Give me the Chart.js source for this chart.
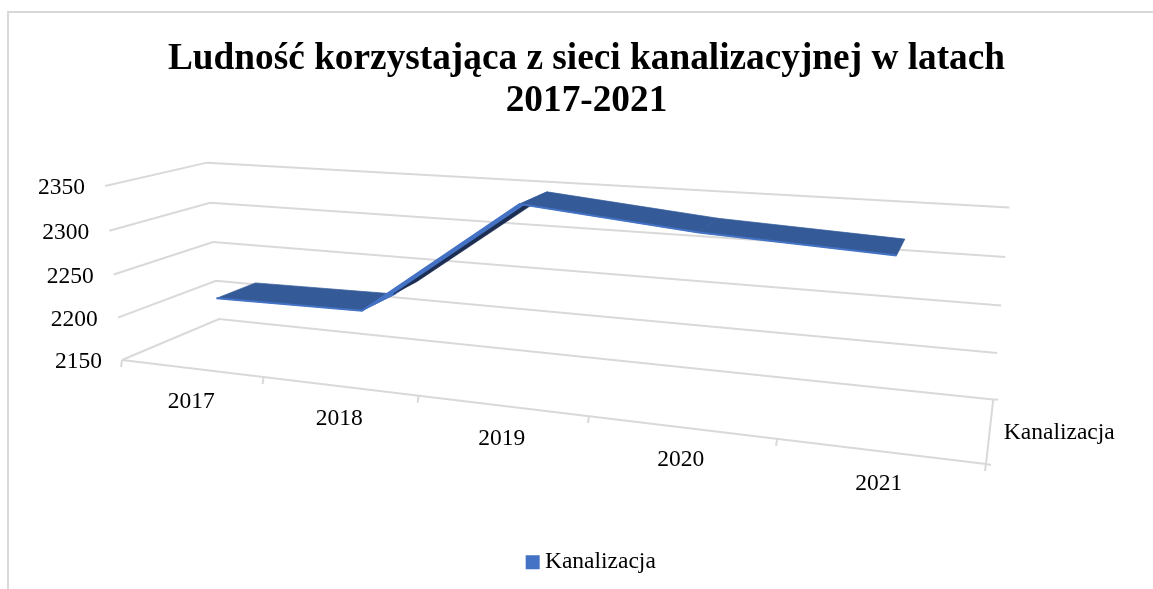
<!DOCTYPE html>
<html lang="pl">
<head>
<meta charset="utf-8">
<title>Ludność korzystająca z sieci kanalizacyjnej</title>
<style>
html,body{margin:0;padding:0;background:#fff;overflow:hidden}
canvas{display:block}
</style>
<script src="https://cdn.jsdelivr.net/npm/chart.js@4/dist/chart.umd.min.js"></script>
</head>
<body>
<canvas id="c" width="1153" height="589"></canvas>
<script>
const titleLines = ['Ludność korzystająca z sieci kanalizacyjnej w latach', '2017-2021'];
const seriesName = 'Kanalizacja';
const years = ['2017', '2018', '2019', '2020', '2021'];
const values = [2217, 2219, 2348, 2331, 2322];
const valueTicks = [2150, 2200, 2250, 2300, 2350];

const FONT = '"Liberation Serif","Times New Roman",serif';
const GRID = '#D9D9D9';
const LABEL_SIZE = 23.5;

// View of the 3D box: pixel corners of the box and their perspective weights
const view = {
  A: [122, 360], // floor front-left
  B: [986, 464], // floor front-right
  C: [219, 319], // floor back-left
  E: [105, 186], // top front-left
  wB: 0.784, wC: 1.118, wE: 0.965,
  zFront: 0.30, zBack: 0.72, thickness: 3
};

function project(X, Y, Z) {
  const {A, B, C, E, wB, wC, wE} = view;
  const w = 1 + X * (wB - 1) + Y * (wE - 1) + Z * (wC - 1);
  const f = i => A[i] + X * (wB * B[i] - A[i]) + Y * (wE * E[i] - A[i]) + Z * (wC * C[i] - A[i]);
  return {x: f(0) / w, y: f(1) / w};
}
function unit(chart, px, py) {
  const a = chart.chartArea;
  return [(px - a.left) / (a.right - a.left), (a.bottom - py) / (a.bottom - a.top)];
}
function seg(ctx, p, q) {
  ctx.beginPath(); ctx.moveTo(p.x, p.y); ctx.lineTo(q.x, q.y); ctx.stroke();
}
function quad(ctx, a, b, c, d, color) {
  ctx.fillStyle = color; ctx.strokeStyle = color; ctx.lineWidth = 0.7;
  ctx.beginPath(); ctx.moveTo(a.x, a.y); ctx.lineTo(b.x, b.y); ctx.lineTo(c.x, c.y); ctx.lineTo(d.x, d.y);
  ctx.closePath(); ctx.fill(); ctx.stroke();
}
function along(p, q, t, dx, dy) {
  return {x: p.x + t * (q.x - p.x) + dx, y: p.y + t * (q.y - p.y) + dy};
}

const perspective = {
  id: 'perspective',
  afterLayout(chart) {
    // legend sits slightly right of the chart's centre line
    chart.legend.left += 7.5; chart.legend.right += 7.5;
  },
  afterDatasetsUpdate(chart) {
    chart.data.datasets.forEach((ds, i) => {
      const z = i === 0 ? view.zFront : view.zBack;
      chart.getDatasetMeta(i).data.forEach(pt => {
        const [X, Y] = unit(chart, pt.x, pt.y);
        const p = project(X, Y, z);
        pt.x = p.x; pt.y = p.y;
      });
    });
  },
  beforeDatasetsDraw(chart) {
    const ctx = chart.ctx, xs = chart.scales.x, ys = chart.scales.y;
    ctx.save();
    // outer frame of the chart object
    ctx.strokeStyle = GRID; ctx.lineWidth = 2;
    ctx.beginPath(); ctx.moveTo(8, 589); ctx.lineTo(8, 12); ctx.lineTo(1153, 12); ctx.stroke();

    ctx.lineCap = 'butt'; ctx.lineWidth = 2; ctx.strokeStyle = GRID;
    // value gridlines on the left and back walls
    ys.ticks.forEach(t => {
      const [, Y] = unit(chart, 0, ys.getPixelForValue(t.value));
      const a = project(0, Y, 0), b = project(0, Y, 1), c = project(1, Y, 1);
      ctx.beginPath(); ctx.moveTo(a.x, a.y); ctx.lineTo(b.x, b.y); ctx.lineTo(c.x, c.y); ctx.stroke();
    });
    // floor front edge, right edge and tick marks
    const f0 = project(0, 0, 0), f1 = project(1, 0, 0), b1 = project(1, 0, 1);
    seg(ctx, f0, f1); seg(ctx, f1, b1);
    for (let i = 0; i <= years.length; i++) {
      const [X] = unit(chart, xs.getPixelForValue(i - 0.5), 0);
      const p = project(X, 0, 0);
      seg(ctx, p, {x: p.x - 1, y: p.y + 7});
    }
    seg(ctx, f1, {x: f1.x + 5, y: f1.y + 1});
    seg(ctx, b1, {x: b1.x + 5, y: b1.y});

    // ribbon surfaces between the front and the back series points
    const front = chart.getDatasetMeta(0).data, back = chart.getDatasetMeta(1).data;
    for (let i = 0; i < front.length - 1; i++) {
      const p = front[i], q = front[i + 1], r = back[i], s = back[i + 1];
      const rising = q.y < p.y - 30;
      quad(ctx, p, q, s, r, rising ? '#4472C4' : '#345A98');
      if (rising) {
        // dark underside along the lower edge of the steep segment
        const h = view.thickness;
        quad(ctx, along(r, s, 0, -2, 0), along(r, s, 0.9, -1, -1), along(r, s, 0.9, 1, h - 1), along(r, s, 0.14, 0, h - 1), '#1B2D50');
      }
    }
    ctx.restore();
  },
  afterDraw(chart) {
    const ctx = chart.ctx, xs = chart.scales.x, ys = chart.scales.y;
    ctx.save();
    ctx.font = LABEL_SIZE + 'px ' + FONT;
    ctx.fillStyle = '#000';
    ctx.textBaseline = 'middle';
    ctx.textAlign = 'right';
    ys.ticks.forEach(t => {
      const [, Y] = unit(chart, 0, ys.getPixelForValue(t.value));
      const p = project(0, Y, 0);
      ctx.fillText(t.label, p.x - 20, p.y + 2);
    });
    ctx.textAlign = 'center';
    xs.ticks.forEach((t, i) => {
      const [X] = unit(chart, xs.getPixelForTick(i), 0);
      const p = project(X, 0, 0);
      ctx.fillText(t.label, p.x, p.y + 33);
    });
    ctx.textAlign = 'left';
    const q = project(1, 0, 0.5);
    ctx.fillText(seriesName, q.x + 14, q.y + 3);
    ctx.restore();
  }
};

new Chart(document.getElementById('c'), {
  type: 'line',
  data: {
    labels: years,
    datasets: [
      {label: seriesName, data: values, borderColor: '#4472C4', backgroundColor: '#4472C4',
       borderWidth: 2, pointRadius: 0, tension: 0, fill: false, clip: false},
      {label: seriesName + ' (tył)', data: values, borderColor: 'rgba(0,0,0,0)', backgroundColor: '#345A98',
       borderWidth: 0, pointRadius: 0, tension: 0, fill: false, clip: false}
    ]
  },
  options: {
    responsive: false,
    animation: false,
    events: [],
    layout: {padding: {left: 20, right: 0, top: 0, bottom: 5}},
    scales: {
      x: {type: 'category', display: false, offset: true},
      y: {type: 'linear', display: false, min: valueTicks[0], max: valueTicks[valueTicks.length - 1],
          ticks: {stepSize: valueTicks[1] - valueTicks[0], callback: v => String(v)}}
    },
    plugins: {
      tooltip: {enabled: false},
      title: {display: true, text: titleLines, color: '#000', padding: {top: 39, bottom: 10},
              font: {family: FONT, size: 37.3, weight: 'bold', lineHeight: 1.11}},
      legend: {display: true, position: 'bottom',
               labels: {filter: item => item.datasetIndex === 0, color: '#000', usePointStyle: true,
                        pointStyle: 'rect', boxWidth: 1, boxHeight: 12,
                        font: {family: FONT, size: LABEL_SIZE}}}
    }
  },
  plugins: [perspective]
});
</script>
</body>
</html>
